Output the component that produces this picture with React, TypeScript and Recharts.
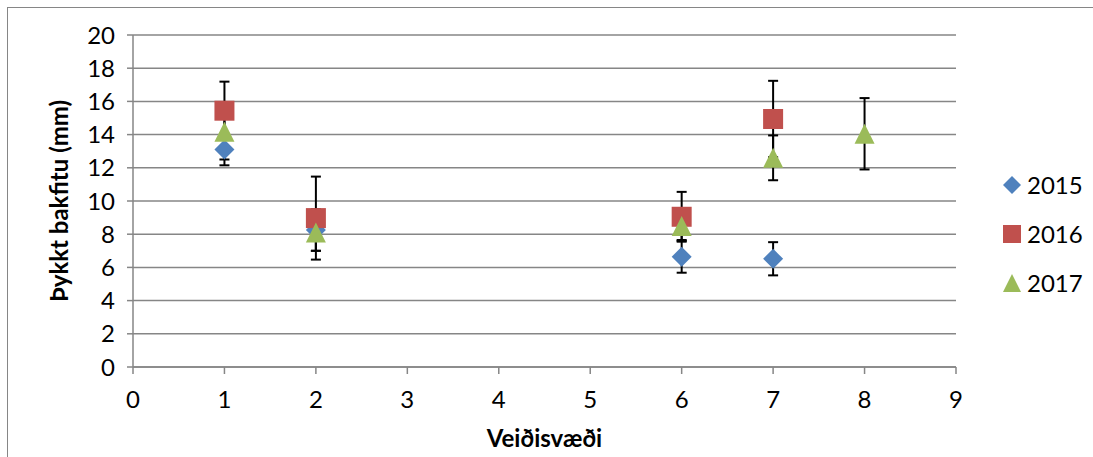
import { CartesianGrid, ErrorBar, Scatter, ScatterChart, XAxis, YAxis } from 'recharts'

const years = ['2015', '2016', '2017']

const areas2015 = [1, 2, 6, 7]
const fat2015 = [13.1, 8.25, 6.64, 6.52]
const err2015 = [0.95, 1.25, 0.96, 1.0]

const areas2016 = [1, 2, 6, 7]
const fat2016 = [15.44, 8.97, 9.05, 14.94]
const err2016 = [1.75, 2.5, 1.5, 2.3]

const areas2017 = [1, 2, 6, 7, 8]
const fat2017 = [14.17, 8.1, 8.5, 12.6, 14.05]
const err2017 = [1.67, 1.1, 0.85, 1.35, 2.15]

const xTicks = [0, 1, 2, 3, 4, 5, 6, 7, 8, 9]
const yTicks = [0, 2, 4, 6, 8, 10, 12, 14, 16, 18, 20]

const colors = ['#4F81BD', '#C0504D', '#9BBB59']
const gray = '#868686'
const font = 'Lato, "Open Sans", sans-serif'

const toRows = (xs: number[], ys: number[], es: number[]) =>
  xs.map((x, i) => ({ x, y: ys[i], err: es[i] }))

const diamond = (cx: number, cy: number, r: number, fill: string) => (
  <path d={`M${cx},${cy - r}L${cx + r},${cy}L${cx},${cy + r}L${cx - r},${cy}Z`} fill={fill} />
)
const square = (cx: number, cy: number, r: number, fill: string) => (
  <rect x={cx - r} y={cy - r} width={r * 2} height={r * 2} fill={fill} />
)
const triangle = (cx: number, cy: number, r: number, fill: string) => (
  <path d={`M${cx},${cy - r}L${cx + r},${cy + r}L${cx - r},${cy + r}Z`} fill={fill} />
)
const markers = [diamond, square, triangle]

// legend drawn outside recharts so it does not eat into the plot width
function LegendBox() {
  return (
    <div style={{ position: 'absolute', left: 1000, top: 160, fontFamily: font, fontSize: 24 }}>
      {years.map((y, i) => (
        <div key={y} style={{ display: 'flex', alignItems: 'center', height: 49 }}>
          <svg width={24} height={22} style={{ marginRight: 3 }}>
            {markers[i](12, 11, 9, colors[i])}
          </svg>
          <span>{y}</span>
        </div>
      ))}
    </div>
  )
}

export default function App() {
  const series = [
    toRows(areas2015, fat2015, err2015),
    toRows(areas2016, fat2016, err2016),
    toRows(areas2017, fat2017, err2017),
  ]
  return (
    <div style={{ position: 'absolute', left: 0, top: 0, width: 1093, height: 457, background: '#fff', overflow: 'hidden' }}>
      <div
        style={{
          position: 'absolute',
          left: 7,
          top: 7,
          width: 1093,
          height: 457,
          borderTop: `1px solid ${gray}`,
          borderLeft: `1px solid ${gray}`,
        }}
      />
      <ScatterChart
        width={1093}
        height={457}
        margin={{ top: 35, right: 137, bottom: 0, left: 53 }}
        style={{ position: 'absolute', left: 0, top: 0 }}
      >
        <CartesianGrid horizontal={true} vertical={false} stroke={gray} strokeWidth={1.5} />
        <XAxis
          type='number'
          dataKey='x'
          domain={[0, 9]}
          ticks={xTicks}
          interval={0}
          height={90}
          stroke={gray}
          strokeWidth={1.5}
          tickSize={7}
          tickMargin={17}
          tick={{ fill: '#000', fontSize: 24, fontFamily: font }}
          label={{
            value: 'Veiðisvæði',
            position: 'insideBottom',
            offset: 10,
            fill: '#000',
            fontSize: 24,
            fontWeight: 700,
            fontFamily: font,
          }}
        />
        <YAxis
          type='number'
          dataKey='y'
          domain={[0, 20]}
          ticks={yTicks}
          interval={0}
          width={80}
          stroke={gray}
          strokeWidth={1.5}
          tickSize={6}
          tickMargin={12}
          tick={{ fill: '#000', fontSize: 24, fontFamily: font }}
          label={{
            value: 'Þykkt bakfitu (mm)',
            angle: -90,
            position: 'insideLeft',
            offset: 0,
            dx: 6,
            fill: '#000',
            fontSize: 24,
            fontWeight: 700,
            fontFamily: font,
            style: { textAnchor: 'middle' },
          }}
        />
        {series.map((rows, i) => (
          <Scatter
            key={years[i]}
            name={years[i]}
            data={rows}
            fill={colors[i]}
            isAnimationActive={false}
            shape={(p: any) => markers[i](p.cx, p.cy, 10, colors[i])}
          >
            <ErrorBar dataKey='err' direction='y' width={5} stroke='#000' strokeWidth={2} />
          </Scatter>
        ))}
      </ScatterChart>
      <LegendBox />
    </div>
  )
}
